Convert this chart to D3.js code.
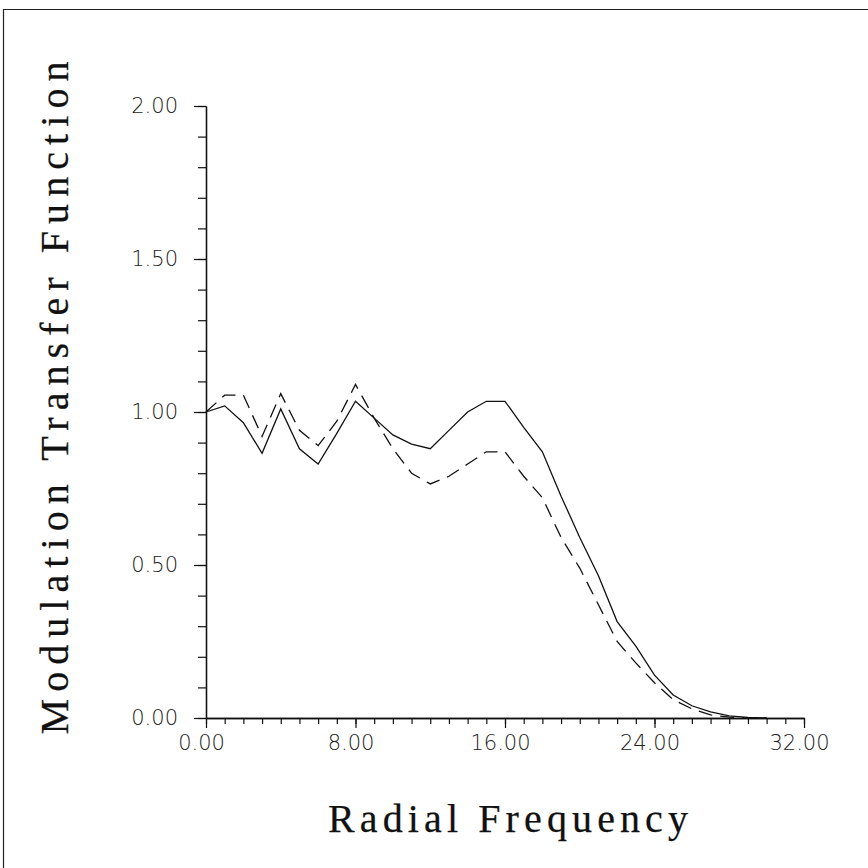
<!DOCTYPE html>
<html>
<head>
	<meta charset="utf-8">
	<title>MTF</title>
	<style type="text/css">
		body{
			margin: 0;
			background-color: white;
		}
		.tick text{
			font-family: "DejaVu Sans", sans-serif;
			font-weight: 200;
			font-size: 21px;
			fill: #222;
		}
		.title{
			font-family: "Liberation Serif", serif;
			font-size: 40px;
			fill: #111;
			stroke: #111;
			stroke-width: 0.25;
		}
	</style>
	<script src="https://cdn.jsdelivr.net/npm/d3@7"></script>
</head>
<body>
	<div id="chart"></div>
	<script type="text/javascript">
		// radial frequency samples
		const freq = [0,1,2,3,4,5,6,7,8,9,10,11,12,13,14,15,16,17,18,19,20,21,22,23,24,25,26,27,28,29,30];
		// solid curve
		const mtfSolid = [1.00,1.02,0.965,0.865,1.01,0.88,0.83,0.93,1.035,0.98,0.925,0.895,0.88,0.94,1.00,1.035,1.035,0.95,0.87,0.725,0.59,0.465,0.315,0.235,0.14,0.075,0.04,0.02,0.007,0.002,0];
		// dashed curve
		const mtfDashed = [1.00,1.055,1.055,0.92,1.06,0.94,0.89,0.97,1.09,0.98,0.88,0.80,0.765,0.79,0.83,0.87,0.87,0.79,0.72,0.59,0.49,0.37,0.25,0.18,0.115,0.06,0.03,0.01,0.003,0,0];
		const xTicks = [0,8,16,24,32];
		const yTicks = [0,0.5,1,1.5,2];

		const [w,h] = [868,868];
		const xScale = d3.scaleLinear().domain([0,32]).range([206,804]);
		const yScale = d3.scaleLinear().domain([0,2]).range([718,106]);

		const svg = d3.select('#chart')
			.append('svg')
			.attr('width', w)
			.attr('height', h);

		// page frame
		svg.append('path')
			.attr('d', 'M3.5,868V9.5H868')
			.attr('fill', 'none')
			.attr('stroke', '#222')
			.attr('stroke-width', 1.2);

		// minor ticks
		svg.append('g')
			.attr('transform', `translate(0,${yScale(0)})`)
			.call(d3.axisBottom(xScale).tickValues(d3.range(0,33)).tickSize(6).tickSizeOuter(0).tickFormat(''));
		svg.append('g')
			.attr('transform', `translate(${xScale(0)},0)`)
			.call(d3.axisLeft(yScale).tickValues(d3.range(0,20.5).map(d=>d/10)).tickSize(8).tickSizeOuter(0).tickFormat(''));

		// major ticks + labels
		const xAxis = svg.append('g')
			.attr('transform', `translate(0,${yScale(0)})`)
			.call(d3.axisBottom(xScale).tickValues(xTicks).tickSize(10).tickSizeOuter(0).tickPadding(7).tickFormat(d3.format('.2f')));
		xAxis.selectAll('text').attr('dx', -5);
		svg.append('g')
			.attr('transform', `translate(${xScale(0)},0)`)
			.call(d3.axisLeft(yScale).tickValues(yTicks).tickSize(12).tickSizeOuter(0).tickPadding(16).tickFormat(d3.format('.2f')));

		svg.selectAll('.domain').attr('stroke', '#111').attr('stroke-width', 1.3);
		svg.selectAll('.tick line').attr('stroke', '#111').attr('stroke-width', 1.2);

		const line = d3.line()
			.x((d,i)=>xScale(freq[i]))
			.y(d=>yScale(d));

		svg.append('path')
			.datum(mtfSolid)
			.attr('d', line)
			.attr('fill', 'none')
			.attr('stroke', '#111')
			.attr('stroke-width', 1.3);

		svg.append('path')
			.datum(mtfDashed)
			.attr('d', line)
			.attr('fill', 'none')
			.attr('stroke', '#111')
			.attr('stroke-width', 1.3)
			.attr('stroke-dasharray', '14,8');

		// axis titles
		svg.append('text')
			.attr('class', 'title')
			.attr('x', 508)
			.attr('y', 832)
			.attr('text-anchor', 'middle')
			.attr('textLength', 360)
			.attr('lengthAdjust', 'spacing')
			.text('Radial Frequency');

		svg.append('text')
			.attr('class', 'title')
			.attr('transform', 'translate(68,398) rotate(-90)')
			.attr('text-anchor', 'middle')
			.attr('textLength', 673)
			.attr('lengthAdjust', 'spacing')
			.text('Modulation Transfer Function');
	</script>
</body>
</html>
